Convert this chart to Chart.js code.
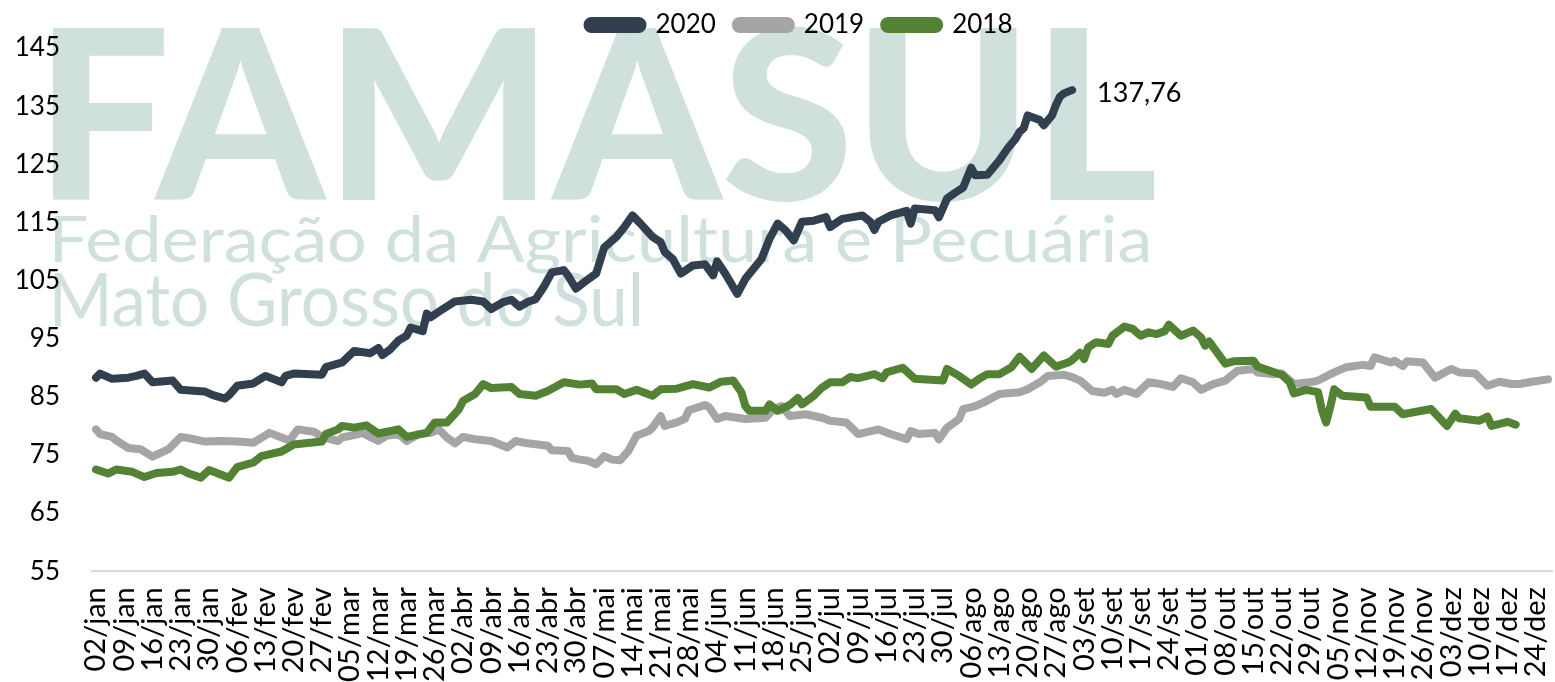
<!DOCTYPE html>
<html>
<head>
<meta charset="utf-8">
<script src="https://cdn.jsdelivr.net/npm/chart.js@4.4.1/dist/chart.umd.min.js"></script>
<style>
  html, body { margin: 0; padding: 0; background: #fff; overflow: hidden; }
  #wrap { position: relative; width: 1555px; height: 698px; }
</style>
</head>
<body>
<div id="wrap"><canvas id="chart"></canvas></div>
<script>
// weekly tick labels (day offset = index * 7 from 02/jan)
const tickLabels = ['02/jan', '09/jan', '16/jan', '23/jan', '30/jan', '06/fev', '13/fev', '20/fev', '27/fev',
    '05/mar', '12/mar', '19/mar', '26/mar', '02/abr', '09/abr', '16/abr', '23/abr', '30/abr',
    '07/mai', '14/mai', '21/mai', '28/mai', '04/jun', '11/jun', '18/jun', '25/jun',
    '02/jul', '09/jul', '16/jul', '23/jul', '30/jul', '06/ago', '13/ago', '20/ago', '27/ago',
    '03/set', '10/set', '17/set', '24/set', '01/out', '08/out', '15/out', '22/out', '29/out',
    '05/nov', '12/nov', '19/nov', '26/nov', '03/dez', '10/dez', '17/dez', '24/dez'];

// [day since 02/jan, value]
const serie2020 = [[0, 88.3], [1, 89.0], [4, 88.1], [8, 88.3], [10, 88.6], [12, 89.0], [14, 87.5], [19, 87.8],
    [21, 86.2], [25, 86.0], [27, 85.9], [29, 85.3], [32, 84.7], [33, 85.3], [35, 86.9], [39, 87.3], [42, 88.6],
    [46, 87.5], [47, 88.6], [49, 89.0], [56, 88.8], [57, 90.1], [60, 90.7], [61, 90.9], [64, 92.9], [68, 92.5],
    [70, 93.4], [71, 92.2], [73, 93.2], [75, 94.7], [77, 95.5], [78, 96.9], [81, 96.3], [82, 99.3], [83, 98.7],
    [86, 100.1], [89, 101.4], [93, 101.7], [96, 101.4], [98, 100.1], [101, 101.3], [103, 101.7], [105, 100.5],
    [107, 101.3], [109, 101.8], [111, 103.9], [113, 106.4], [116, 106.8], [117, 105.9], [119, 103.6], [121, 104.7],
    [124, 106.2], [126, 110.7], [129, 112.5], [131, 114.2], [133, 116.2], [135, 114.8], [138, 112.5], [140, 111.6],
    [141, 109.9], [143, 108.7], [145, 106.2], [148, 107.6], [151, 107.8], [153, 105.9], [154, 108.3], [156, 106.2],
    [159, 102.7], [161, 105.3], [165, 108.7], [167, 112.2], [169, 114.8], [171, 113.6], [173, 111.9], [175, 115.1],
    [178, 115.3], [181, 115.9], [182, 114.2], [185, 115.6], [190, 116.2], [192, 115.1], [193, 113.7], [194, 115.1],
    [197, 116.2], [201, 117.0], [202, 114.8], [203, 117.4], [208, 117.1], [209, 115.9], [211, 119.1], [213, 120.1],
    [215, 121.0], [217, 124.4], [218, 123.1], [221, 123.2], [224, 125.7], [226, 127.7], [228, 129.4], [229, 130.6],
    [230, 131.2], [231, 133.4], [234, 132.6], [235, 131.7], [237, 133.4], [238, 135.2], [239, 136.6], [240, 137.2],
    [242, 137.76]];

const serie2019 = [[0, 79.4], [1, 78.6], [4, 78.1], [5, 77.5], [8, 76.2], [11, 76.0], [14, 74.7], [18, 76.0],
    [21, 78.1], [23, 77.9], [27, 77.3], [31, 77.4], [35, 77.3], [39, 77.1], [43, 78.8], [46, 78.0], [48, 77.5],
    [50, 79.4], [54, 79.0], [56, 78.1], [60, 77.4], [61, 78.0], [65, 78.6], [66, 78.8], [70, 77.4], [72, 78.3],
    [75, 78.6], [77, 77.4], [80, 78.6], [83, 78.8], [85, 79.4], [87, 78.0], [89, 77.0], [91, 78.1], [94, 77.7],
    [98, 77.4], [102, 76.3], [104, 77.4], [107, 77.0], [112, 76.6], [113, 75.8], [117, 75.7], [118, 74.5],
    [120, 74.2], [122, 74.0], [124, 73.4], [126, 74.8], [128, 74.2], [130, 74.1], [132, 75.7], [134, 78.3],
    [137, 79.1], [138, 79.7], [140, 81.7], [141, 80.0], [144, 80.6], [146, 81.2], [147, 82.7], [151, 83.6],
    [152, 83.2], [154, 81.2], [156, 81.7], [159, 81.4], [161, 81.2], [166, 81.4], [168, 82.9], [170, 83.4],
    [172, 81.7], [176, 82.0], [180, 81.4], [182, 80.9], [186, 80.6], [189, 78.6], [194, 79.4], [197, 78.6],
    [201, 77.7], [202, 79.1], [204, 78.6], [208, 78.8], [209, 77.7], [211, 79.7], [214, 81.2], [215, 82.9],
    [218, 83.4], [220, 84.0], [224, 85.5], [229, 85.8], [231, 86.3], [234, 87.5], [236, 88.6], [240, 88.8],
    [242, 88.4], [244, 87.8], [247, 86.0], [250, 85.7], [252, 86.2], [253, 85.5], [255, 86.2], [258, 85.5],
    [261, 87.5], [264, 87.2], [267, 86.7], [269, 88.2], [272, 87.5], [274, 86.2], [277, 87.2], [280, 87.8],
    [283, 89.5], [287, 89.8], [288, 89.2], [292, 88.9], [294, 89.0], [297, 87.2], [301, 87.5], [303, 87.8],
    [307, 89.2], [310, 90.1], [314, 90.5], [316, 90.3], [317, 91.8], [321, 90.9], [322, 91.2], [324, 90.3],
    [325, 91.1], [329, 90.9], [332, 88.3], [336, 89.8], [338, 89.2], [342, 89.0], [345, 86.9], [348, 87.6],
    [351, 87.2], [353, 87.2], [356, 87.6], [360, 88.0]];

const serie2018 = [[0, 72.5], [3, 71.8], [5, 72.5], [9, 72.1], [12, 71.2], [15, 71.9], [19, 72.1], [21, 72.5],
    [23, 71.8], [26, 71.1], [28, 72.4], [33, 71.1], [35, 72.9], [39, 73.7], [41, 74.8], [46, 75.6], [49, 76.8],
    [56, 77.3], [57, 78.6], [60, 79.4], [61, 80.0], [64, 79.7], [67, 80.1], [70, 78.7], [75, 79.4], [77, 78.1],
    [82, 78.8], [84, 80.6], [87, 80.6], [89, 82.1], [90, 82.9], [91, 84.3], [94, 85.5], [96, 87.2], [98, 86.5],
    [103, 86.7], [105, 85.5], [109, 85.2], [112, 86.0], [116, 87.5], [120, 87.1], [123, 87.3], [124, 86.3],
    [129, 86.3], [131, 85.5], [134, 86.2], [138, 85.2], [140, 86.3], [144, 86.4], [148, 87.2], [152, 86.6],
    [155, 87.6], [158, 87.8], [160, 85.8], [161, 83.4], [162, 82.6], [166, 82.6], [167, 83.7], [169, 82.6],
    [172, 83.6], [174, 84.8], [175, 83.7], [178, 85.2], [180, 86.6], [182, 87.5], [185, 87.5], [187, 88.4],
    [189, 88.2], [193, 88.9], [195, 88.2], [196, 89.2], [200, 90.0], [203, 88.1], [208, 87.9], [210, 87.8],
    [211, 89.8], [214, 88.6], [217, 87.1], [219, 88.1], [221, 88.9], [224, 88.9], [227, 90.1], [229, 91.9],
    [232, 89.8], [235, 92.1], [238, 90.2], [241, 90.9], [242, 91.3], [244, 92.6], [245, 91.5], [246, 93.5],
    [248, 94.4], [251, 94.1], [252, 95.5], [255, 97.1], [257, 96.7], [259, 95.5], [261, 96.1], [263, 95.8],
    [265, 96.3], [266, 97.4], [269, 95.5], [272, 96.4], [274, 95.2], [275, 93.8], [276, 94.5], [278, 92.6],
    [280, 90.7], [282, 91.1], [287, 91.2], [288, 90.2], [291, 89.5], [294, 88.8], [296, 87.5], [297, 85.6],
    [300, 86.2], [303, 85.8], [304, 82.6], [305, 80.6], [306, 83.2], [307, 86.3], [309, 85.2], [315, 84.9],
    [316, 83.3], [322, 83.3], [324, 82.0], [331, 82.9], [335, 80.0], [337, 82.1], [338, 81.3], [343, 80.9],
    [345, 81.6], [346, 80.0], [350, 80.7], [352, 80.2]];

const FONT = 'Lato, "Open Sans", sans-serif';

function toPoints(serie) {
    return serie.map(p => ({ x: p[0], y: p[1] }));
}

// FAMASUL watermark behind everything
const watermark = {
    id: 'watermark',
    beforeDraw(chart) {
        const ctx = chart.ctx;
        const lines = [
            { text: 'FAMASUL', weight: 900, left: 53, base: 200, cap: 173, width: 1102 },
            { text: 'Federação da Agricultura e Pecuária', weight: 400, left: 54, base: 262, cap: 47, width: 1094 },
            { text: 'Mato Grosso do Sul', weight: 400, left: 54, base: 326, cap: 54, width: 586 }
        ];
        ctx.save();
        ctx.fillStyle = '#cfe0dd';
        ctx.textBaseline = 'alphabetic';
        lines.forEach(l => {
            ctx.font = l.weight + ' 100px ' + FONT;
            const capRatio = ctx.measureText('H').actualBoundingBoxAscent / 100;
            const size = l.cap / capRatio;
            ctx.font = l.weight + ' ' + size + 'px ' + FONT;
            const m = ctx.measureText(l.text);
            const w = m.actualBoundingBoxLeft + m.actualBoundingBoxRight;
            const sx = l.width / w;
            ctx.save();
            ctx.translate(l.left, l.base);
            ctx.scale(sx, 1);
            ctx.fillText(l.text, m.actualBoundingBoxLeft, 0);
            ctx.restore();
        });
        ctx.restore();
    }
};

// legend sits a bit right of the canvas centre
const legendShift = {
    id: 'legendShift',
    afterLayout(chart) {
        chart.legend.left += 24;
        chart.legend.right += 24;
    }
};

// value label at the end of 2020
const endLabel = {
    id: 'endLabel',
    afterDatasetsDraw(chart) {
        const meta = chart.getDatasetMeta(0);
        const last = meta.data[meta.data.length - 1];
        const value = serie2020[serie2020.length - 1][1];
        const ctx = chart.ctx;
        ctx.save();
        ctx.font = '27px ' + FONT;
        ctx.fillStyle = '#000';
        ctx.textBaseline = 'middle';
        ctx.fillText(value.toFixed(2).replace('.', ','), last.x + 25, last.y + 3);
        ctx.restore();
    }
};

const lineStyle = {
    borderWidth: 8,
    pointRadius: 0,
    tension: 0,
    borderJoinStyle: 'round',
    borderCapStyle: 'round',
    fill: false
};

new Chart(document.getElementById('chart'), {
    type: 'line',
    data: {
        datasets: [
            Object.assign({ label: '2020', data: toPoints(serie2020), borderColor: '#323f4f', backgroundColor: '#323f4f', order: 3 }, lineStyle),
            Object.assign({ label: '2019', data: toPoints(serie2019), borderColor: '#a5a5a5', backgroundColor: '#a5a5a5', order: 2 }, lineStyle),
            Object.assign({ label: '2018', data: toPoints(serie2018), borderColor: '#548235', backgroundColor: '#548235', order: 1 }, lineStyle)
        ]
    },
    options: {
        responsive: true,
        maintainAspectRatio: false,
        animation: false,
        layout: { padding: { left: 0, right: 3, top: -8, bottom: 0 } },
        plugins: {
            legend: {
                position: 'top',
                labels: {
                    sort: (a, b) => a.datasetIndex - b.datasetIndex,
                    color: '#000',
                    font: { family: FONT, size: 26 },
                    boxWidth: 55,
                    boxHeight: 8,
                    useBorderRadius: true,
                    borderRadius: 4,
                    padding: 20
                }
            },
            tooltip: { enabled: false }
        },
        scales: {
            x: {
                type: 'linear',
                min: -1,
                max: 361,
                afterBuildTicks: (scale) => {
                    scale.ticks = tickLabels.map((_, i) => ({ value: i * 7 }));
                },
                afterFit: (scale) => {
                    scale.paddingLeft = 0;
                    scale.paddingRight = 0;
                },
                grid: { display: false, drawTicks: false },
                border: { display: true, color: '#d9d9d9', width: 2 },
                ticks: {
                    autoSkip: false,
                    maxRotation: 90,
                    minRotation: 90,
                    padding: 16,
                    color: '#000',
                    font: { family: FONT, size: 29 },
                    callback: (value) => tickLabels[Math.round(value / 7)]
                }
            },
            y: {
                min: 55,
                max: 145,
                afterFit: (scale) => {
                    scale.width = 92;
                },
                grid: { display: false, drawTicks: false },
                border: { display: false },
                ticks: {
                    stepSize: 10,
                    padding: 32,
                    color: '#000',
                    font: { family: FONT, size: 26 }
                }
            }
        }
    },
    plugins: [watermark, legendShift, endLabel]
});
</script>
</body>
</html>
